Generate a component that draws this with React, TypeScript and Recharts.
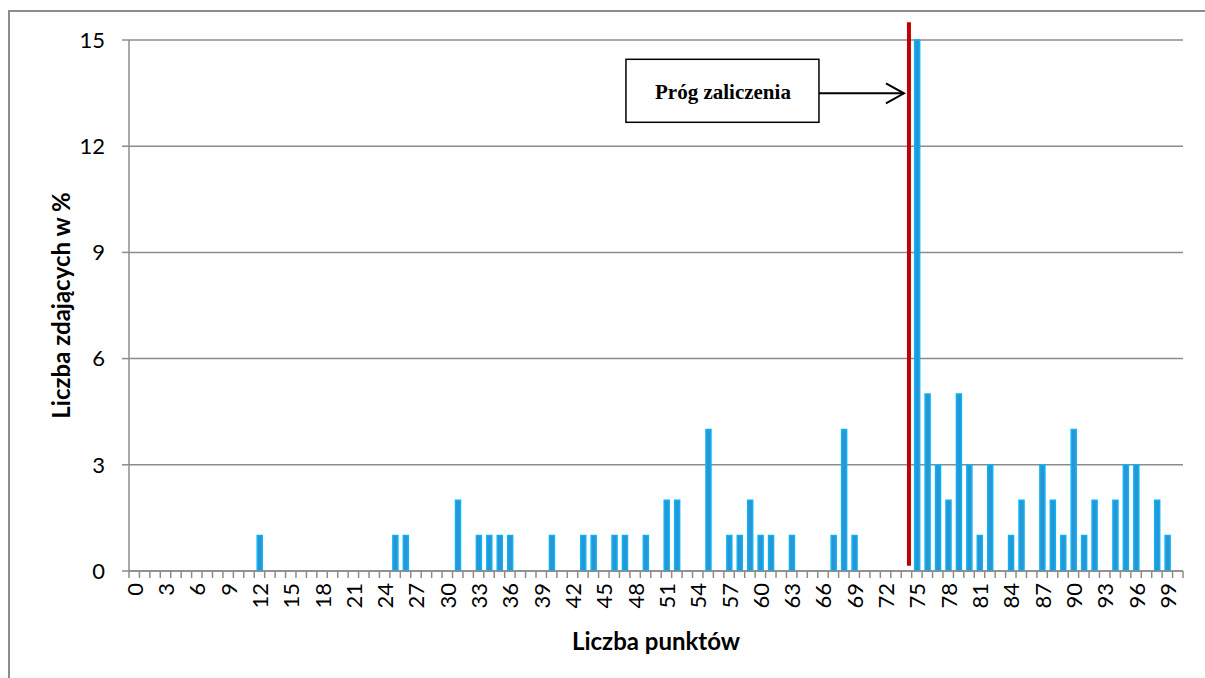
import React from "react";
import { BarChart, Bar, XAxis, YAxis, CartesianGrid, ReferenceLine } from "recharts";

// points 0..100 (category axis)
const scores = Array.from({ length: 101 }, (_, i) => i);

// number of examinees per score
const counts = [
  0, 0, 0, 0, 0, 0, 0, 0, 0, 0,
  0, 0, 1, 0, 0, 0, 0, 0, 0, 0,
  0, 0, 0, 0, 0, 1, 1, 0, 0, 0,
  0, 2, 0, 1, 1, 1, 1, 0, 0, 0,
  1, 0, 0, 1, 1, 0, 1, 1, 0, 1,
  0, 2, 2, 0, 0, 4, 0, 1, 1, 2,
  1, 1, 0, 1, 0, 0, 0, 1, 4, 1,
  0, 0, 0, 0, 0, 15, 5, 3, 2, 5,
  3, 1, 3, 0, 1, 2, 0, 3, 2, 1,
  4, 1, 2, 0, 2, 3, 3, 0, 2, 1,
  0,
];

const yTicks = [0, 3, 6, 9, 12, 15];
const passMark = 74;
const passLabel = "Próg zaliczenia";

const data = scores.map((score, i) => ({ score, count: counts[i] }));

const W = 1195;
const H = 658;
const MARGIN = { top: 28, right: 22, left: 0, bottom: 0 };
const Y_AXIS_W = 119;
const X_AXIS_H = 99;
const GREY = "#8c8c8c";
const FONT = "Lato, 'Noto Sans', sans-serif";
const TICK_FS = 22;
const TITLE_FS = 24;
const band = (W - MARGIN.right - Y_AXIS_W) / scores.length;
const LINE_SHIFT = 2.5;

const XTick = (props: any) => {
  const { x, y, payload } = props;
  const half = band / 2;
  const ty = y + 12;
  return (
    <g>
      <line x1={x - half} x2={x - half} y1={y} y2={y + 7} stroke={GREY} strokeWidth={1.5} />
      {payload.value === 100 && (
        <line x1={x + half} x2={x + half} y1={y} y2={y + 7} stroke={GREY} strokeWidth={1.5} />
      )}
      {payload.value % 3 === 0 && (
        <text
          x={x}
          y={ty}
          transform={`rotate(-90 ${x} ${ty})`}
          textAnchor="end"
          dominantBaseline="central"
          fontFamily={FONT}
          fontSize={TICK_FS}
          fill="#000"
        >
          {payload.value}
        </text>
      )}
    </g>
  );
};

const YTitle = (props: any) => {
  const { viewBox } = props;
  const cx = viewBox.x + 50;
  const cy = viewBox.y + viewBox.height / 2;
  return (
    <text
      x={cx}
      y={cy}
      transform={`rotate(-90 ${cx} ${cy})`}
      textAnchor="middle"
      dominantBaseline="central"
      fontFamily={FONT}
      fontWeight="bold"
      fontSize={TITLE_FS}
      fill="#000"
    >
      Liczba zdających w %
    </text>
  );
};

const XTitle = (props: any) => {
  const { viewBox } = props;
  return (
    <text
      x={viewBox.x + viewBox.width / 2}
      y={viewBox.y + 69}
      textAnchor="middle"
      dominantBaseline="central"
      fontFamily={FONT}
      fontWeight="bold"
      fontSize={TITLE_FS}
      fill="#000"
    >
      Liczba punktów
    </text>
  );
};

// red threshold line, nudged a bit to the right like in the original
const PassLine = (props: any) => {
  const { x1, x2, y1, y2 } = props;
  return (
    <line
      x1={x1 + LINE_SHIFT}
      x2={x2 + LINE_SHIFT}
      y1={y1}
      y2={y2}
      stroke="#c00000"
      strokeWidth={4}
    />
  );
};

// "Próg zaliczenia" box with arrow pointing at the line
const PassNote = (props: any) => {
  const { viewBox } = props;
  const lx = viewBox.x + LINE_SHIFT;
  const top = viewBox.y;
  const ay = top + 71;
  return (
    <g>
      <rect x={lx - 283} y={top + 37} width={193} height={63} fill="#fff" stroke="#000" strokeWidth={1.5} />
      <text
        x={lx - 186}
        y={top + 70}
        textAnchor="middle"
        dominantBaseline="central"
        fontFamily="'Liberation Serif', 'DejaVu Serif', serif"
        fontWeight="bold"
        fontSize={21}
        fill="#000"
      >
        {passLabel}
      </text>
      <line x1={lx - 90} x2={lx - 5} y1={ay} y2={ay} stroke="#000" strokeWidth={2} />
      <polyline
        points={`${lx - 23},${ay - 10} ${lx - 5},${ay} ${lx - 23},${ay + 10}`}
        fill="none"
        stroke="#000"
        strokeWidth={2}
      />
    </g>
  );
};

export default function App() {
  return (
    <div
      style={{
        position: "fixed",
        left: 8,
        top: 10,
        width: 1197,
        height: 668,
        boxSizing: "border-box",
        borderTop: `2px solid ${GREY}`,
        borderLeft: `2px solid ${GREY}`,
        background: "#fff",
      }}
    >
      <BarChart width={W} height={H} data={data} margin={MARGIN}>
        <CartesianGrid vertical={false} stroke={GREY} strokeWidth={1.5} />
        <XAxis
          dataKey="score"
          interval={0}
          height={X_AXIS_H}
          tickLine={false}
          tickSize={0}
          tickMargin={0}
          tick={<XTick />}
          axisLine={{ stroke: GREY, strokeWidth: 1.5 }}
          label={XTitle}
        />
        <YAxis
          width={Y_AXIS_W}
          domain={[0, 15]}
          ticks={yTicks}
          interval={0}
          tickSize={7}
          tickMargin={17}
          tickLine={{ stroke: GREY, strokeWidth: 1.5 }}
          axisLine={{ stroke: GREY, strokeWidth: 1.5 }}
          tick={{ fontFamily: FONT, fontSize: TICK_FS, fill: "#000" }}
          label={YTitle}
        />
        <Bar
          dataKey="count"
          barSize={5}
          fill="#2a95d5"
          stroke="#0db3f2"
          strokeWidth={1.5}
          isAnimationActive={false}
        />
        <ReferenceLine
          segment={[
            { x: passMark, y: 0.15 },
            { x: passMark, y: 15.5 },
          ]}
          ifOverflow="visible"
          shape={PassLine}
          label={PassNote}
        />
      </BarChart>
    </div>
  );
}
